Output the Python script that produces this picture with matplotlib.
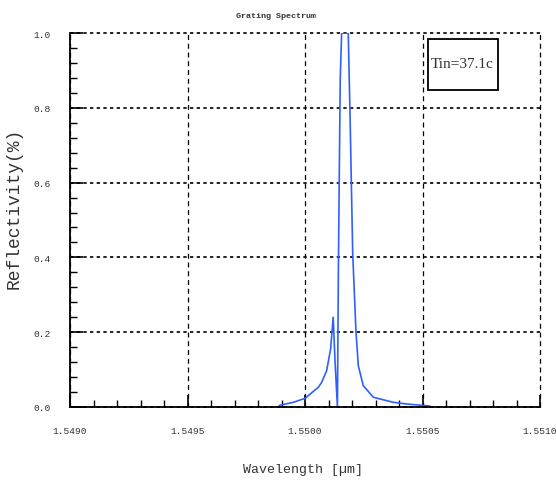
import matplotlib
matplotlib.use("Agg")
import matplotlib.pyplot as plt
from matplotlib.patches import Rectangle
from matplotlib.ticker import MultipleLocator, FormatStrFormatter

# spectrum (wavelength in um, reflectivity 0..1)
wavelength = [1.549885, 1.549894, 1.549950, 1.550000, 1.550057, 1.550071,
              1.550092, 1.550109, 1.550120, 1.550128, 1.550138, 1.550142,
              1.550146, 1.550150, 1.550156, 1.550184, 1.550192, 1.550203,
              1.550217, 1.550227, 1.550248, 1.550291, 1.550376, 1.550433,
              1.550525, 1.550532]
reflect = [0.000, 0.005, 0.0125, 0.023, 0.053, 0.066,
           0.097, 0.155, 0.240, 0.120, 0.000, 0.360,
           0.630, 0.880, 1.000, 1.000, 0.770, 0.410,
           0.200, 0.110, 0.057, 0.026, 0.0125, 0.008,
           0.003, 0.002]

x_ticks = [1.5490, 1.5495, 1.5500, 1.5505, 1.5510]
y_ticks = [0.0, 0.2, 0.4, 0.6, 0.8, 1.0]
note = "Tin=37.1c"

mono = "Liberation Mono"
W, H = 556, 489

fig = plt.figure(figsize=(W/100, H/100), dpi=100)
ax = fig.add_axes([70/W, 81/H, 470/W, 374/H])

ax.plot(wavelength, reflect, color="#2f60ff", lw=1.2)

ax.set_xlim(1.5490, 1.5510)
ax.set_ylim(0, 1.0)
ax.set_xticks(x_ticks)
ax.set_yticks(y_ticks)
ax.xaxis.set_minor_locator(MultipleLocator(0.0001))
ax.yaxis.set_minor_locator(MultipleLocator(0.04))
ax.xaxis.set_major_formatter(FormatStrFormatter("%.4f"))
ax.yaxis.set_major_formatter(FormatStrFormatter("%.1f"))

ax.tick_params(which="major", direction="in", length=9, width=1.2, pad=14,
               top=False, right=False)
ax.tick_params(which="minor", direction="in", length=5, width=1,
               top=False, right=False)
for lab in ax.get_xticklabels() + ax.get_yticklabels():
    lab.set_family(mono)
    lab.set_fontsize(6.8)
    lab.set_color("#333333")

ax.spines["top"].set_visible(False)
ax.spines["right"].set_visible(False)
ax.spines["left"].set_linewidth(1.3)
ax.spines["bottom"].set_linewidth(1.3)

# grid: dashed verticals, dotted horizontals
ax.xaxis.grid(True, color="black", ls=(0, (4, 3)), lw=0.9)
ax.yaxis.grid(True, color="black", ls=(0, (2, 2)), lw=1.2)
ax.set_axisbelow(True)
for gl in ax.get_xgridlines() + ax.get_ygridlines():
    gl.set_clip_on(False)

# temperature box
ax.add_patch(Rectangle((428/W, 1 - 91/H), 70/W, 51/H, transform=fig.transFigure,
                       fc="white", ec="black", lw=1.3, zorder=5))
fig.text(462/W, 1 - 65/H, note, family="Liberation Serif", fontsize=11,
         ha="center", va="center", color="#333333", zorder=6)

fig.text(276/W, 1 - 16/H, "Grating Spectrum", family=mono, fontsize=6,
         fontweight="bold", ha="center", va="center", color="#333333")
fig.text(303/W, 1 - 470/H, "Wavelength [\u00b5m]", family=mono,
         fontsize=9.5, ha="center", va="center", color="#333333")
fig.text(14/W, 1 - 208/H, "Reflectivity(%)", family=mono, fontsize=13,
         rotation=90, ha="center", va="center", color="#333333")

fig.savefig("out.png", dpi=100)
